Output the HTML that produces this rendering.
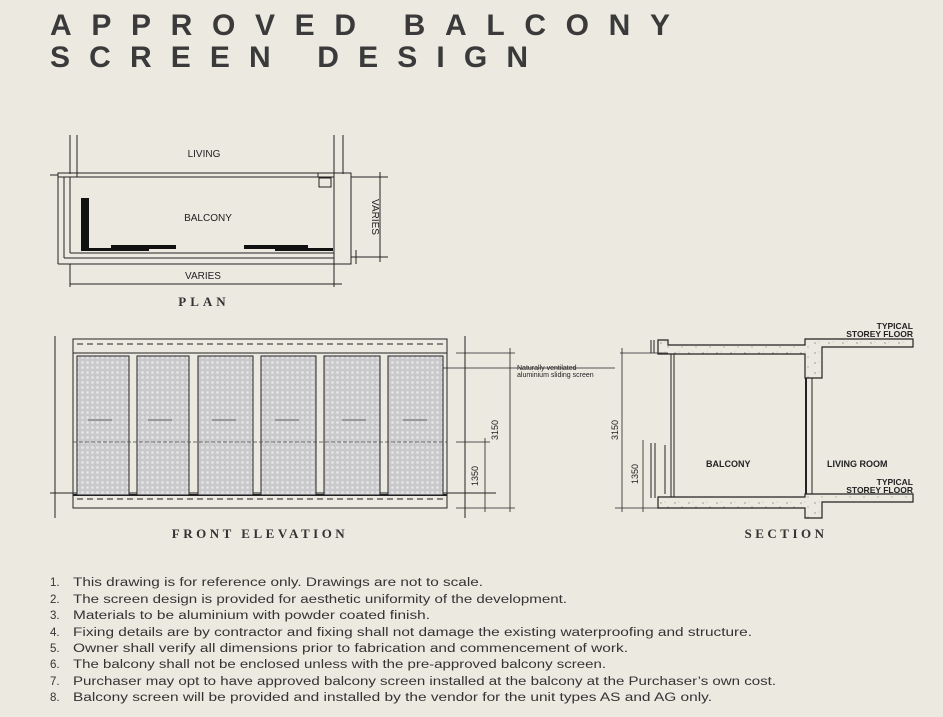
<!DOCTYPE html>
<html><head><meta charset="utf-8"><style>
html,body{margin:0;padding:0;background:#ece9e1;}
svg{display:block;font-family:"Liberation Sans",sans-serif;}
</style></head><body>
<svg width="943" height="717" viewBox="0 0 943 717" xmlns="http://www.w3.org/2000/svg">
<defs>
<pattern id="mesh" width="5" height="5" patternUnits="userSpaceOnUse">
<rect width="5" height="5" fill="#c9c9cb"/><circle cx="2.5" cy="2.5" r="1.4" fill="#e4e4e6"/>
</pattern>
<pattern id="conc" width="14" height="10" patternUnits="userSpaceOnUse">
<rect width="14" height="10" fill="#ece9e1"/><circle cx="3" cy="3" r="0.6" fill="#666"/><circle cx="10" cy="7" r="0.5" fill="#666"/><circle cx="7" cy="2" r="0.4" fill="#888"/>
</pattern>
</defs>
<rect width="943" height="717" fill="#ece9e1"/>
<g fill="#3a3a3a" font-family="Liberation Sans, sans-serif" font-size="30" font-weight="bold">
<text x="50" y="35" textLength="620" lengthAdjust="spacing">APPROVED BALCONY</text>
<text x="50" y="67" textLength="478" lengthAdjust="spacing">SCREEN DESIGN</text>
</g>
<!-- PLAN -->
<g stroke="#222" fill="none" stroke-width="1">
<line x1="70" y1="135" x2="70" y2="174"/><line x1="77" y1="135" x2="77" y2="174"/>
<line x1="334" y1="135" x2="334" y2="174"/><line x1="343" y1="135" x2="343" y2="174"/>
<rect x="58" y="173" width="19" height="4"/>
<line x1="77" y1="173" x2="318" y2="173"/><line x1="77" y1="177" x2="318" y2="177"/>
<line x1="50" y1="175" x2="58" y2="175"/>
<rect x="318" y="173" width="16" height="4"/>
<polyline points="334,173 351,173 351,264 335,264"/>
<rect x="319" y="178" width="12" height="9"/>
<line x1="58" y1="177" x2="58" y2="264"/><line x1="64" y1="177" x2="64" y2="258"/>
<line x1="64" y1="258" x2="334" y2="258"/><line x1="58" y1="264" x2="335" y2="264"/>
<line x1="70" y1="177" x2="70" y2="253"/><line x1="70" y1="253" x2="334" y2="253"/>
<line x1="334" y1="177" x2="334" y2="264"/>
<line x1="70" y1="284" x2="342" y2="284"/><line x1="70" y1="264" x2="70" y2="287"/><line x1="334" y1="264" x2="334" y2="287"/>
<line x1="351" y1="177" x2="388" y2="177"/><line x1="351" y1="257" x2="388" y2="257"/>
<line x1="380" y1="172" x2="380" y2="262"/>
<line x1="356" y1="250" x2="356" y2="264"/>
</g>
<g fill="#111">
<rect x="81" y="198" width="8" height="52"/>
<rect x="81" y="245" width="5" height="6"/><rect x="81" y="248" width="68" height="3"/><rect x="111" y="245" width="65" height="4"/>
<rect x="244" y="245" width="64" height="4"/><rect x="275" y="248" width="58" height="3"/>
</g>
<g font-size="10" fill="#222" text-anchor="middle">
<text x="204" y="157">LIVING</text><text x="208" y="221">BALCONY</text><text x="203" y="279">VARIES</text>
<text x="0" y="0" transform="translate(372,217) rotate(90)">VARIES</text>
</g>
<text x="204" y="306" font-family="Liberation Serif,serif" font-size="13" font-weight="bold" letter-spacing="4" text-anchor="middle" fill="#333">PLAN</text>
<!-- ELEVATION -->
<g stroke="#222" fill="none">
<line x1="55" y1="336" x2="55" y2="518"/><line x1="465" y1="336" x2="465" y2="518"/>
<rect x="73" y="339" width="374" height="169"/>
<line x1="73" y1="353" x2="447" y2="353"/><line x1="73" y1="495" x2="447" y2="495" stroke-width="2"/>
<line x1="77" y1="344" x2="443" y2="344" stroke-dasharray="6,4"/>
<line x1="77" y1="499" x2="443" y2="499" stroke-dasharray="6,4"/>
<line x1="50" y1="493" x2="496" y2="493"/>
</g>
<g stroke="#222" fill="url(#mesh)">
<rect x="77" y="356" width="52" height="139"/><rect x="137" y="356" width="52" height="139"/>
<rect x="198" y="356" width="55" height="139"/><rect x="261" y="356" width="55" height="139"/>
<rect x="324" y="356" width="56" height="139"/><rect x="388" y="356" width="55" height="139"/>
</g>
<g stroke="#444" stroke-width="0.7">
<line x1="73" y1="442" x2="447" y2="442" stroke-dasharray="4,2"/>
<line x1="88" y1="420" x2="112" y2="420"/><line x1="148" y1="420" x2="172" y2="420"/><line x1="212" y1="420" x2="236" y2="420"/>
<line x1="275" y1="420" x2="299" y2="420"/><line x1="342" y1="420" x2="366" y2="420"/><line x1="403" y1="420" x2="427" y2="420"/>
</g>
<g stroke="#222" fill="none" stroke-width="0.8">
<line x1="456" y1="353" x2="515" y2="353"/><line x1="456" y1="442" x2="490" y2="442"/><line x1="456" y1="508" x2="515" y2="508"/>
<line x1="510" y1="348" x2="510" y2="512"/><line x1="485" y1="438" x2="485" y2="512"/>
<line x1="443" y1="368" x2="615" y2="368"/>
</g>
<g font-size="9" fill="#222">
<text transform="translate(498,430) rotate(-90)" text-anchor="middle">3150</text>
<text transform="translate(478,476) rotate(-90)" text-anchor="middle">1350</text>
<text x="517" y="370" font-size="7">Naturally ventilated</text>
<text x="517" y="377" font-size="7">aluminium sliding screen</text>
</g>
<text x="260" y="538" font-family="Liberation Serif,serif" font-size="13" font-weight="bold" letter-spacing="3.5" text-anchor="middle" fill="#333">FRONT ELEVATION</text>
<!-- SECTION -->
<g stroke="#222" fill="url(#conc)" stroke-width="1.2">
<path d="M658,340 H668 V345 H805 V339 H913 V347 H822 V378 H805 V354 H658 Z"/>
<path d="M658,497 H805 V494 H913 V502 H822 V518 H805 V508 H658 Z"/>
</g>
<g stroke="#222" fill="none">
<line x1="651" y1="340" x2="651" y2="353"/><line x1="654" y1="340" x2="654" y2="353"/>
<line x1="671" y1="354" x2="671" y2="497"/><line x1="674" y1="354" x2="674" y2="497"/>
<line x1="806" y1="378" x2="806" y2="494" stroke-width="2"/><line x1="812" y1="378" x2="812" y2="494"/>
<line x1="651" y1="443" x2="651" y2="498"/><line x1="655" y1="443" x2="655" y2="498"/>
<line x1="665" y1="445" x2="665" y2="494"/>
<line x1="620" y1="353" x2="668" y2="353" stroke-width="0.8"/><line x1="622" y1="348" x2="622" y2="512" stroke-width="0.8"/>
<line x1="643" y1="440" x2="643" y2="512" stroke-width="0.8"/><line x1="615" y1="508" x2="658" y2="508" stroke-width="0.8"/>
</g>
<g font-size="9" fill="#222">
<text transform="translate(618,430) rotate(-90)" text-anchor="middle">3150</text>
<text transform="translate(638,474) rotate(-90)" text-anchor="middle">1350</text>
</g>
<g font-size="9" font-weight="bold" fill="#222">
<text x="706" y="467">BALCONY</text><text x="827" y="467">LIVING ROOM</text>
</g>
<g font-size="8.5" font-weight="bold" fill="#222" text-anchor="end">
<text x="913" y="329">TYPICAL</text><text x="913" y="337">STOREY FLOOR</text>
<text x="913" y="485">TYPICAL</text><text x="913" y="493">STOREY FLOOR</text>
</g>
<text x="786" y="538" font-family="Liberation Serif,serif" font-size="13" font-weight="bold" letter-spacing="3.5" text-anchor="middle" fill="#333">SECTION</text>
<!-- NOTES -->
<g font-size="11.5" fill="#333" lengthAdjust="spacingAndGlyphs">
<text x="50" y="586">1.</text><text x="73" y="586" textLength="410" lengthAdjust="spacingAndGlyphs">This drawing is for reference only. Drawings are not to scale.</text>
<text x="50" y="603">2.</text><text x="73" y="603" textLength="494" lengthAdjust="spacingAndGlyphs">The screen design is provided for aesthetic uniformity of the development.</text>
<text x="50" y="619">3.</text><text x="73" y="619" textLength="357" lengthAdjust="spacingAndGlyphs">Materials to be aluminium with powder coated finish.</text>
<text x="50" y="636">4.</text><text x="73" y="636" textLength="679" lengthAdjust="spacingAndGlyphs">Fixing details are by contractor and fixing shall not damage the existing waterproofing and structure.</text>
<text x="50" y="652">5.</text><text x="73" y="652" textLength="555" lengthAdjust="spacingAndGlyphs">Owner shall verify all dimensions prior to fabrication and commencement of work.</text>
<text x="50" y="668">6.</text><text x="73" y="668" textLength="533" lengthAdjust="spacingAndGlyphs">The balcony shall not be enclosed unless with the pre-approved balcony screen.</text>
<text x="50" y="685">7.</text><text x="73" y="685" textLength="703" lengthAdjust="spacingAndGlyphs">Purchaser may opt to have approved balcony screen installed at the balcony at the Purchaser’s own cost.</text>
<text x="50" y="701">8.</text><text x="73" y="701" textLength="639" lengthAdjust="spacingAndGlyphs">Balcony screen will be provided and installed by the vendor for the unit types AS and AG only.</text>
</g>
</svg>
</body></html>
